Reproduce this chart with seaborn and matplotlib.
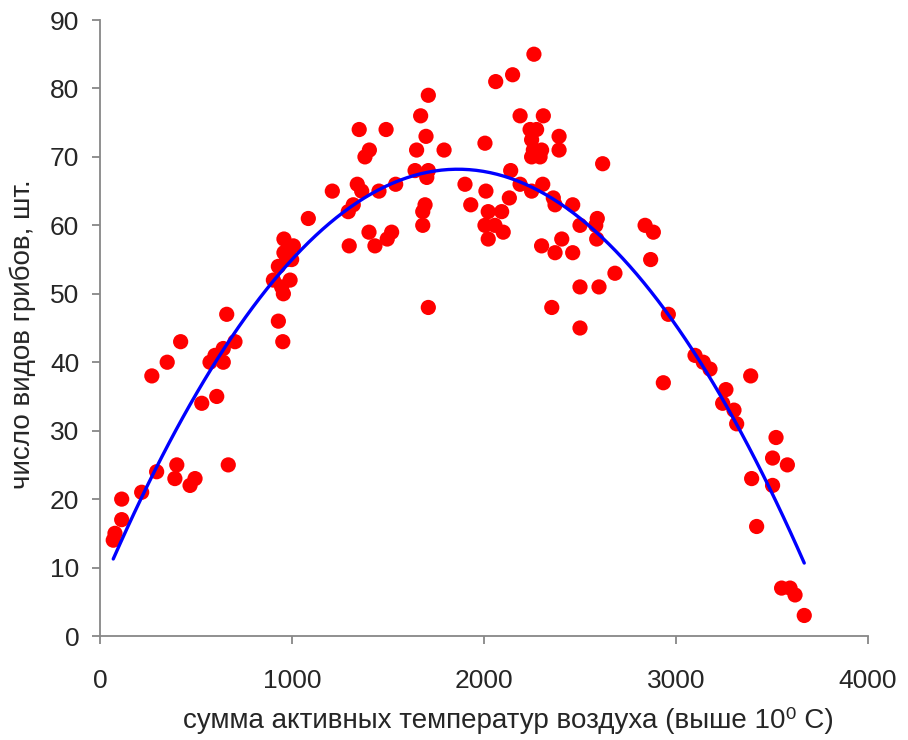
import matplotlib
matplotlib.use("Agg")
import matplotlib.pyplot as plt
import seaborn as sns
import pandas as pd

# sum of active air temperatures (above 10 C)
temp_sum = [
    69, 78, 113, 113, 217, 295, 270, 350, 420, 400, 390, 495, 469, 668, 530, 608,
    703, 642, 599, 573, 642, 660,
    1085, 958, 1007, 958, 998, 929, 972, 903, 990, 946, 955, 929, 952,
    1710, 1670, 1698, 1649, 1792, 1350, 1490, 1403, 1380, 1641, 1710, 1702,
    1210, 1340, 1363, 1453, 1540, 1319, 1293, 1693, 1681, 1681, 1401, 1519,
    1496, 1298, 1432, 1710,
    2260, 2149, 2061, 2188, 2309, 2240, 2274, 2391, 2248, 2257, 2300, 2391,
    2248, 2292, 2005, 2139, 2618, 1901, 2010, 1931, 2132, 2188, 2248, 2306,
    2361, 2370, 2462, 2022, 2092, 2005, 2057, 2100, 2022, 2500, 2590, 2582,
    2300, 2370, 2405, 2462, 2587, 2682, 2500, 2599, 2353, 2500,
    2839, 2882, 2868, 2960, 2934, 3099, 3142, 3177, 3389, 3260, 3243, 3302,
    3316, 3521, 3503, 3580, 3394, 3503, 3420, 3550, 3594, 3620, 3668,
]
# number of fungi species
species = [
    14, 15, 20, 17, 21, 24, 38, 40, 43, 25, 23, 23, 22, 25, 34, 35,
    43, 42, 41, 40, 40, 47,
    61, 58, 57, 56, 55, 54, 55, 52, 52, 51, 50, 46, 43,
    79, 76, 73, 71, 71, 74, 74, 71, 70, 68, 68, 67,
    65, 66, 65, 65, 66, 63, 62, 63, 62, 60, 59, 59,
    58, 57, 57, 48,
    85, 82, 81, 76, 76, 74, 74, 73, 72.5, 71, 71, 71,
    70, 70, 72, 68, 69, 66, 65, 63, 64, 66, 65, 66,
    64, 63, 63, 62, 62, 60, 60, 59, 58, 60, 61, 60,
    57, 56, 58, 56, 58, 53, 51, 51, 48, 45,
    60, 59, 55, 47, 37, 41, 40, 39, 38, 36, 34, 33,
    31, 29, 26, 25, 23, 22, 16, 7, 7, 6, 3,
]

x_ticks = [0, 1000, 2000, 3000, 4000]
y_ticks = [0, 10, 20, 30, 40, 50, 60, 70, 80, 90]
x_label = "сумма активных температур воздуха (выше 10\u2070 C)"
y_label = "число видов грибов, шт."

df = pd.DataFrame({"t": temp_sum, "n": species})

sns.set_style("white")
plt.rcParams["font.family"] = ["Liberation Sans", "DejaVu Sans"]

fig = plt.figure(figsize=(9.08, 7.4), dpi=100)
ax = fig.add_axes([100 / 908, 104 / 740, 768 / 908, 616 / 740])

sns.scatterplot(data=df, x="t", y="n", ax=ax, color="#ff0000", s=120,
                edgecolor="none", linewidth=0, zorder=2, clip_on=False)
sns.regplot(data=df, x="t", y="n", ax=ax, order=2, ci=None, scatter=False,
            truncate=True, line_kws={"color": "#0000ff", "linewidth": 2.4, "zorder": 3})

ax.set_xlim(0, 4000)
ax.set_ylim(0, 90)
ax.set_xticks(x_ticks)
ax.set_yticks(y_ticks)
ax.set_xticklabels([str(v) for v in x_ticks])
ax.set_yticklabels([str(v) for v in y_ticks])

text_color = "#262626"
spine_color = "#878787"
for side in ["top", "right"]:
    ax.spines[side].set_visible(False)
for side in ["left", "bottom"]:
    ax.spines[side].set_color(spine_color)
    ax.spines[side].set_linewidth(1.3)
ax.tick_params(axis="both", which="major", direction="out", length=6, width=1.3,
               color=spine_color, labelsize=19, labelcolor=text_color, pad=9,
               bottom=True, left=True)
ax.tick_params(axis="x", pad=18)

ax.set_xlabel(x_label, fontsize=20, color=text_color, labelpad=10)
ax.set_ylabel(y_label, fontsize=20, color=text_color, labelpad=10)
ax.xaxis.label.set_x((508 - 100) / 768)
ax.yaxis.label.set_y(0.49)

fig.savefig("out.png", dpi=100, facecolor="white")
